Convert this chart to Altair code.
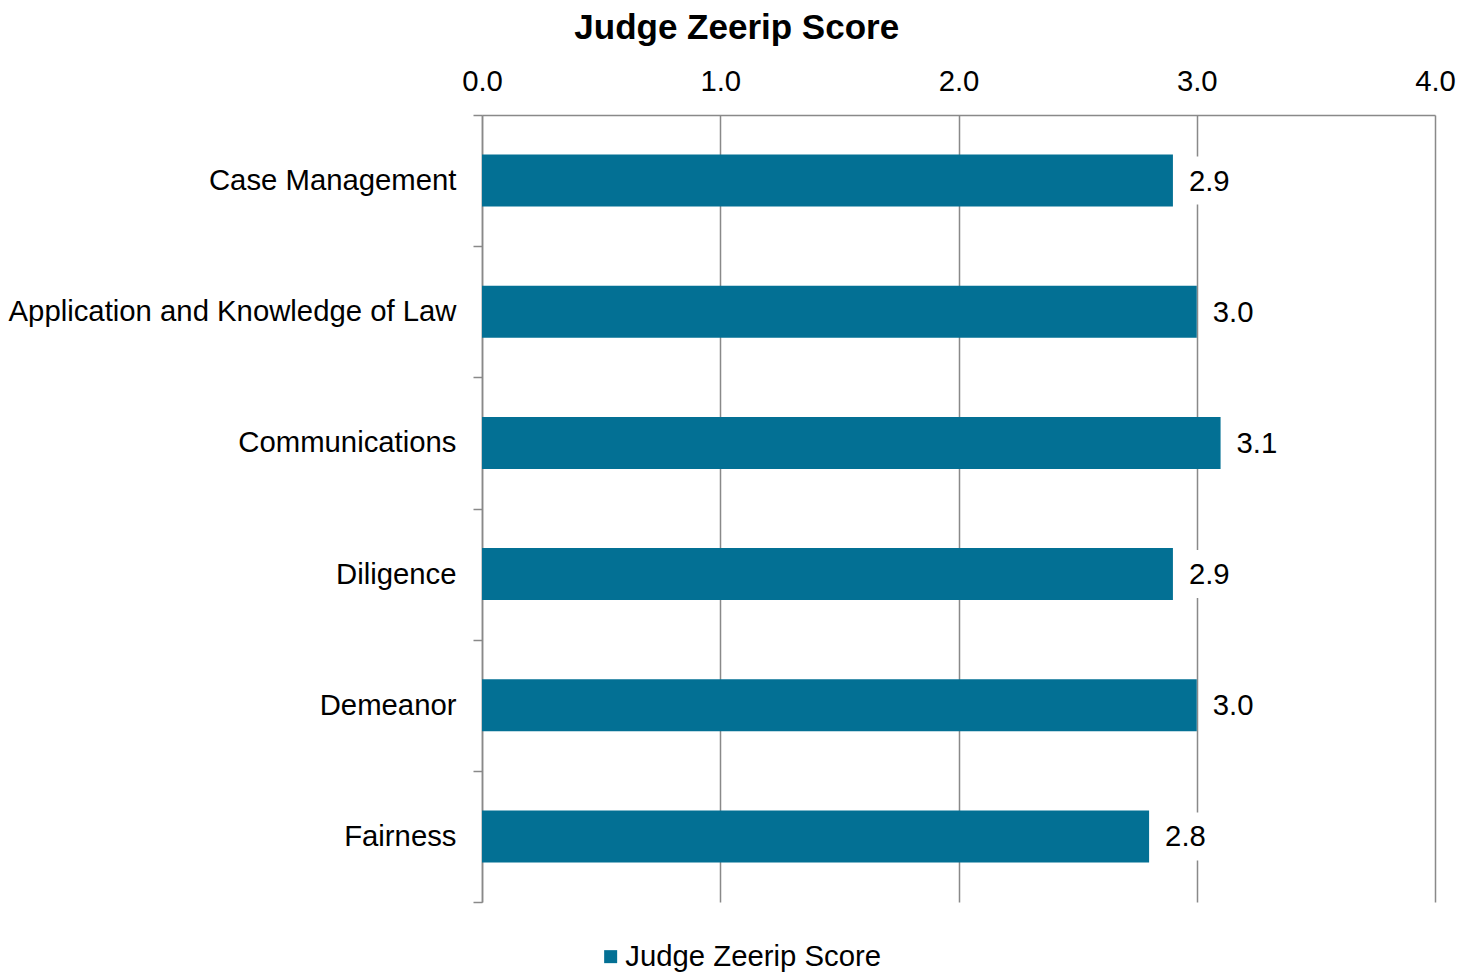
import altair as alt
import pandas as pd

categories = ["Case Management", "Application and Knowledge of Law", "Communications",
              "Diligence", "Demeanor", "Fairness"]
scores = [2.9, 3.0, 3.1, 2.9, 3.0, 2.8]
series_name = "Judge Zeerip Score"
x_ticks = [0, 1, 2, 3, 4]

df = pd.DataFrame({"category": categories, "score": scores, "series": [series_name] * len(categories)})

FONT = "Liberation Sans"
GRAY = "#898989"
BAR = "#037094"
FS = 29.3

y_enc = alt.Y("category:N", sort=categories, title=None,
              scale=alt.Scale(paddingInner=0, paddingOuter=0),
              axis=alt.Axis(tickBand="extent", ticks=True, tickSize=9, tickColor=GRAY, tickWidth=1.5,
                            domainColor=GRAY, domainWidth=1.5, grid=False,
                            labelFont=FONT, labelFontSize=FS, labelColor="#000000",
                            labelPadding=17, labelLimit=600))
x_enc = alt.X("score:Q", title=None,
              scale=alt.Scale(domain=[0, 4], nice=False),
              axis=alt.Axis(orient="top", values=x_ticks, format=".1f", ticks=False, tickSize=0,
                            grid=True, gridColor=GRAY, gridWidth=1.5, labelFlush=False,
                            domainColor=GRAY, domainWidth=1.5,
                            labelFont=FONT, labelFontSize=FS, labelColor="#000000",
                            labelPadding=19))

bars = alt.Chart(df).mark_bar(color=BAR, size=52).encode(
    x=x_enc, y=y_enc,
    color=alt.Color("series:N", scale=alt.Scale(range=[BAR]), title=None,
                    legend=alt.Legend(orient="none", legendX=114, legendY=827, direction="horizontal",
                                      symbolType="square", symbolSize=169, symbolStrokeWidth=0,
                                      labelFont=FONT, labelFontSize=FS, labelColor="#000000",
                                      labelOffset=0, labelLimit=600))
)

label_bg = alt.Chart(df).mark_bar(color="white", size=48, xOffset=12, x2Offset=56).encode(
    x=alt.X("score:Q"), x2=alt.X2("score"), y=alt.Y("category:N", sort=categories)
)

labels = alt.Chart(df).mark_text(align="left", baseline="middle", dx=16, dy=1,
                                 font=FONT, fontSize=FS, color="#000000").encode(
    x=alt.X("score:Q"), y=alt.Y("category:N", sort=categories),
    text=alt.Text("score:Q", format=".1f")
)

chart = alt.layer(bars, label_bg, labels).properties(
    width=953, height=787,
    title=alt.TitleParams(series_name, font=FONT, fontSize=35, fontWeight="bold", color="#000000",
                          anchor="middle", frame="bounds", offset=21, dx=5),
    autosize=alt.AutoSizeParams(type="none"),
    padding={"left": 474, "top": 107, "right": 30, "bottom": 70},
).configure_view(stroke=None)

chart.save("out.html", embed_options={"renderer": "svg", "actions": False})
